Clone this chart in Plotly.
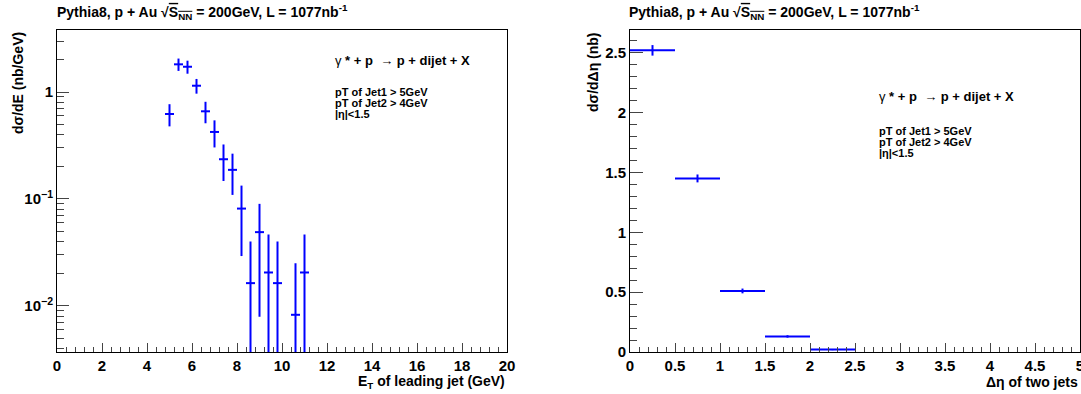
import plotly.graph_objects as go

# ---------------- data ----------------
# Left panel: leading-jet E_T spectrum
et_centers = [5.0, 5.4, 5.8, 6.2, 6.6, 7.0, 7.4, 7.8, 8.2, 8.6, 9.0, 9.4, 9.8, 10.6, 11.0]
et_values = [0.623, 1.815, 1.723, 1.145, 0.660, 0.423, 0.235, 0.187, 0.0812, 0.0163,
             0.0489, 0.0205, 0.0163, 0.00824, 0.0205]
et_errors = [0.146, 0.24, 0.24, 0.18, 0.15, 0.12, 0.088, 0.078, 0.052, 0.0236,
             0.041, 0.026, 0.0236, 0.0168, 0.026]
et_halfwidth = [0.2] * len(et_centers)

# Right panel: delta-eta between the two jets
deta_centers = [0.25, 0.75, 1.25, 1.75, 2.25]
deta_values = [2.52, 1.45, 0.51, 0.13, 0.02]
deta_errors = [0.044, 0.033, 0.02, 0.01, 0.005]
deta_halfwidth = [0.25] * len(deta_centers)

log_tickvals = [0.01, 0.1, 1]
log_ticktext = ["10<sup>\u22122</sup>", "10<sup>\u22121</sup>", "1"]
log_minor = [k * 10 ** e for e in (-3, -2, -1) for k in range(2, 10)] + [2, 3]
log_minor = [v for v in log_minor if v > 0.0037]

title_text = ("<b>Pythia8, p + Au \u221a<span style='text-decoration:overline'>S<sub>NN</sub></span>"
              " = 200GeV, L = 1077nb<sup>-1</sup></b>")
process_text = ("<span style='font-weight:normal'>\u03b3</span><b> * + p  </b>"
                "<span style='font-weight:normal'>\u2192</span><b> p + dijet + X</b>")
cut_lines = ["<b>pT of Jet1 > 5GeV</b>", "<b>pT of Jet2 > 4GeV</b>", "<b>|\u03b7|&lt;1.5</b>"]

# ---------------- figure ----------------
W, H = 1081, 394
BLUE = "#0000ff"
FONT = "Liberation Sans, Arial, sans-serif"


def px(x):
    return x / W


def py(y):
    return 1 - y / H


# lower error bars on the log axis must stay positive
et_err_minus = [min(e, v - 1e-5) for v, e in zip(et_values, et_errors)]

fig = go.Figure()
fig.add_trace(go.Scatter(
    x=et_centers, y=et_values, mode="markers",
    marker=dict(size=1, color=BLUE),
    error_y=dict(type="data", array=et_errors, arrayminus=et_err_minus,
                 color=BLUE, thickness=2, width=0),
    error_x=dict(type="data", array=et_halfwidth, color=BLUE, thickness=2, width=0),
    xaxis="x", yaxis="y", showlegend=False, hoverinfo="skip",
))
fig.add_trace(go.Scatter(
    x=deta_centers, y=deta_values, mode="markers",
    marker=dict(size=1, color=BLUE),
    error_y=dict(type="data", array=deta_errors, color=BLUE, thickness=2, width=0),
    error_x=dict(type="data", array=deta_halfwidth, color=BLUE, thickness=2, width=0),
    xaxis="x2", yaxis="y2", showlegend=False, hoverinfo="skip",
))

tickfont = dict(family=FONT, size=15, color="black", weight="bold")
common = dict(showline=True, linecolor="black", linewidth=1, mirror=True,
              showgrid=False, zeroline=False, ticks="inside", tickcolor="#444",
              tickfont=tickfont, automargin=False, ticklabeloverflow="allow")

ydom = [py(352), py(30)]
fig.update_layout(
    width=W, height=H,
    margin=dict(l=0, r=0, t=0, b=0, autoexpand=False),
    paper_bgcolor="white", plot_bgcolor="white",
    font=dict(family=FONT, color="black"),
    xaxis=dict(domain=[px(57), px(507)], range=[0, 20], dtick=2, tick0=0,
               ticklen=9, anchor="y",
               minor=dict(ticks="inside", ticklen=5, dtick=0.4, tickcolor="#444"),
               **common),
    yaxis=dict(domain=ydom, type="log", range=[-2.432, 0.580],
               tickmode="array", tickvals=log_tickvals, ticktext=log_ticktext,
               ticklen=12, anchor="x",
               minor=dict(ticks="inside", ticklen=7, tickmode="array",
                          tickvals=log_minor, tickcolor="#444"),
               **common),
    xaxis2=dict(domain=[px(630), px(1080)], range=[0, 5], dtick=0.5, tick0=0,
                ticklen=9, anchor="y2",
                minor=dict(ticks="inside", ticklen=5, dtick=0.1, tickcolor="#444"),
                **common),
    yaxis2=dict(domain=ydom, range=[0, 2.69], dtick=0.5, tick0=0,
                ticklen=13, anchor="x2",
                minor=dict(ticks="inside", ticklen=7, dtick=0.1, tickcolor="#444"),
                **common),
)

ann = []
txt = dict(family=FONT, color="black")
for x0 in (55, 627):
    ann.append(dict(text=title_text, x=px(x0), y=py(12), xanchor="left", yanchor="middle",
                    font=dict(size=14, **txt)))
# axis titles
ann.append(dict(text="<b>d\u03c3/dE (nb/GeV)</b>", x=px(18), y=py(30), xanchor="center",
                yanchor="top", textangle=-90, font=dict(size=14, **txt)))
ann.append(dict(text="<b>d\u03c3/d\u0394\u03b7 (nb)</b>", x=px(593), y=py(30), xanchor="center",
                yanchor="top", textangle=-90, font=dict(size=14, **txt)))
ann.append(dict(text="<b>E<sub>T</sub> of leading jet (GeV)</b>", x=px(507), y=py(382),
                xanchor="right", yanchor="middle", font=dict(size=14, **txt)))
ann.append(dict(text="<b>\u0394\u03b7 of two jets</b>", x=px(1080), y=py(382),
                xanchor="right", yanchor="middle", font=dict(size=14, **txt)))
# process labels and cuts
for (x0, y0, ycuts) in ((333, 60, 92), (877, 96, 131)):
    ann.append(dict(text=process_text, x=px(x0), y=py(y0), xanchor="left",
                    yanchor="middle", font=dict(size=13, **txt)))
    for i, line in enumerate(cut_lines):
        ann.append(dict(text=line, x=px(x0), y=py(ycuts + 11.2 * i), xanchor="left",
                        yanchor="middle", font=dict(size=11, **txt)))

for a in ann:
    a.update(xref="paper", yref="paper", showarrow=False)
fig.update_layout(annotations=ann)

fig.write_html(
    "out.html",
    config={"displayModeBar": False},
    post_script=("document.documentElement.style.margin='0px';"
                 "document.body.style.margin='0px';"
                 "document.documentElement.style.overflow='hidden';"
                 "document.body.style.overflow='hidden';"),
)
